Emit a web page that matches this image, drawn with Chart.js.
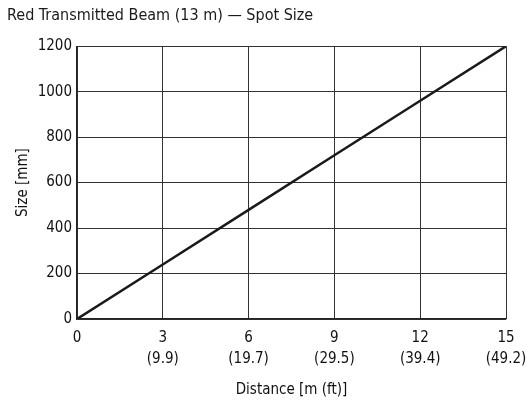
<!DOCTYPE html>
<html>
<head>
<meta charset="utf-8">
<script src="https://cdn.jsdelivr.net/npm/chart.js@4/dist/chart.umd.min.js"></script>
<style>
  html, body { margin: 0; padding: 0; background: #fff; }
</style>
</head>
<body>
<canvas id="spotChart" width="527" height="406"></canvas>
<script>
// distance in metres, with the matching feet values printed under each tick
const distanceM = [0, 3, 6, 9, 12, 15];
const distanceFt = ['', '(9.9)', '(19.7)', '(29.5)', '(39.4)', '(49.2)'];
// beam spot diameter at each distance
const spotSizeMm = [0, 240, 480, 720, 960, 1200];
const sizeTicks = [0, 200, 400, 600, 800, 1000, 1200];

const FONT = "'Liberation Sans Narrow', 'Arial Narrow', 'DejaVu Sans Condensed', sans-serif";

const points = distanceM.map((d, i) => ({ x: d, y: spotSizeMm[i] }));

const ctx = document.getElementById('spotChart').getContext('2d');

new Chart(ctx, {
    type: 'line',
    data: {
        datasets: [{
            data: points,
            borderColor: '#1a1a1a',
            borderWidth: 2.5,
            pointRadius: 0,
            fill: false,
            tension: 0
        }]
    },
    options: {
        responsive: false,
        animation: false,
        layout: { padding: { left: 7, right: 21, top: 0, bottom: 0 } },
        plugins: {
            legend: { display: false },
            tooltip: { enabled: false },
            title: {
                display: true,
                text: 'Red Transmitted Beam (13 m) \u2014 Spot Size',
                align: 'start',
                color: '#1a1a1a',
                font: { family: FONT, size: 16, weight: 'normal', lineHeight: 1.2 },
                padding: { top: 6, bottom: 21 }
            }
        },
        scales: {
            x: {
                type: 'linear',
                min: distanceM[0],
                max: distanceM[distanceM.length - 1],
                afterBuildTicks: scale => {
                    scale.ticks = distanceM.map(v => ({ value: v }));
                },
                afterFit: scale => {
                    // fixed band under the plot; end labels may hang into the margins
                    scale.height = 87;
                    scale.paddingLeft = 0;
                    scale.paddingRight = 0;
                },
                grid: { color: '#333', lineWidth: 1, drawTicks: false },
                border: { color: '#222', width: 1.2 },
                ticks: {
                    color: '#111',
                    padding: 9,
                    maxRotation: 0,
                    autoSkip: false,
                    font: { family: FONT, size: 15, lineHeight: 1.4 },
                    callback: value => {
                        const i = distanceM.indexOf(value);
                        return distanceFt[i] ? [String(value), distanceFt[i]] : String(value);
                    }
                },
                title: {
                    display: true,
                    text: 'Distance [m (ft)]',
                    color: '#111',
                    font: { family: FONT, size: 15, lineHeight: 1.2 },
                    padding: 7
                }
            },
            y: {
                min: sizeTicks[0],
                max: sizeTicks[sizeTicks.length - 1],
                afterBuildTicks: scale => {
                    scale.ticks = sizeTicks.map(v => ({ value: v }));
                },
                afterFit: scale => {
                    scale.width = 70;
                    scale.paddingTop = 0;
                    scale.paddingBottom = 0;
                },
                grid: { color: '#333', lineWidth: 1, drawTicks: false },
                border: { color: '#222', width: 1.2 },
                ticks: {
                    color: '#111',
                    padding: 5,
                    font: { family: FONT, size: 15 },
                    callback: value => String(value)
                },
                title: {
                    display: true,
                    text: 'Size [mm]',
                    color: '#111',
                    font: { family: FONT, size: 15, lineHeight: 1.2 },
                    padding: 7
                }
            }
        }
    }
});
</script>
</body>
</html>
